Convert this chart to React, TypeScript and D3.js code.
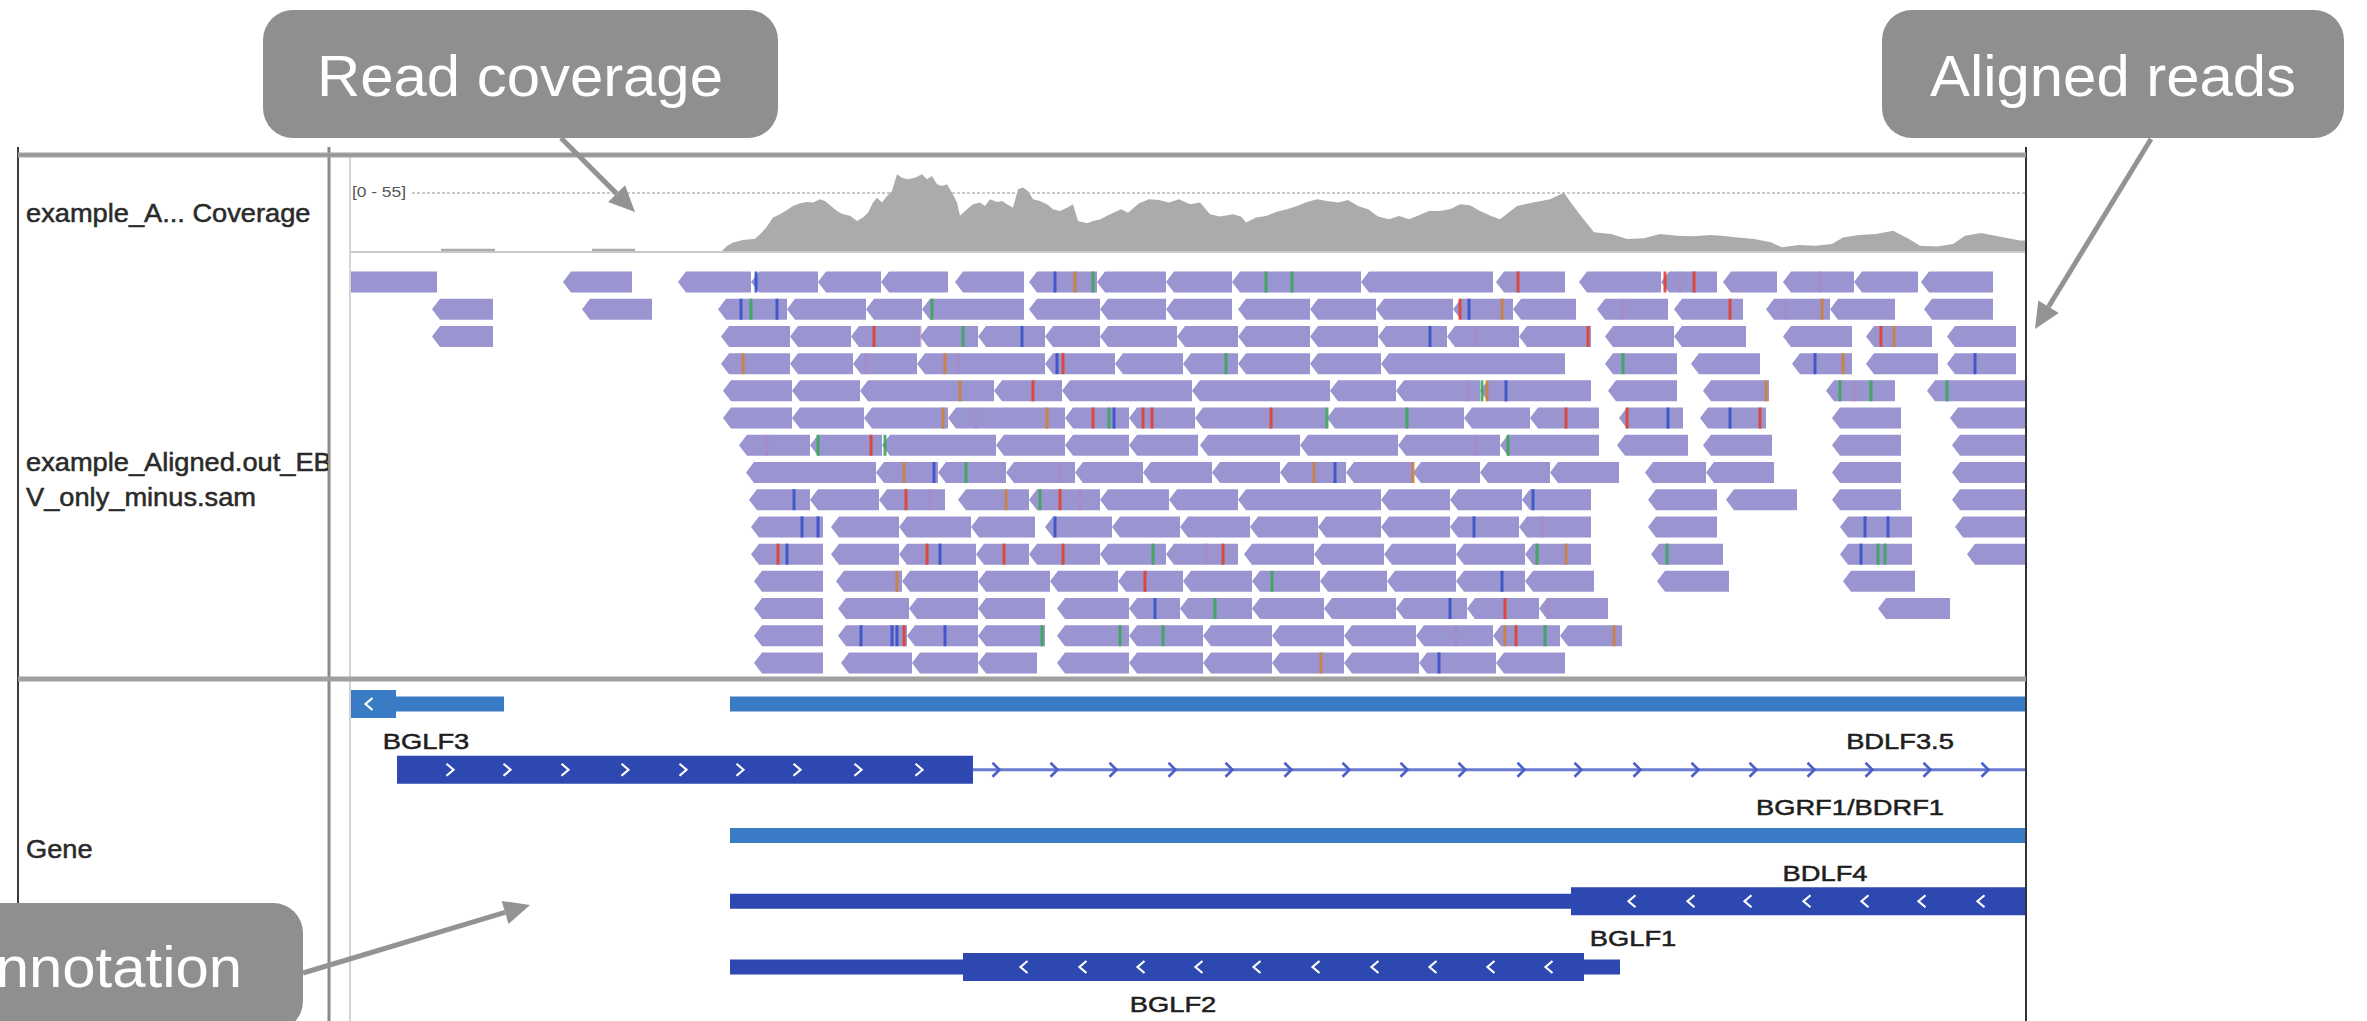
import React from "react";
import * as d3 from "d3";

const W = 2367;
const H = 1021;
const FONT = "'Liberation Sans', Arial, Helvetica, sans-serif";

// coverage track: bp position in the view window, read depth (autoscale [0 - 55])
const covPos = [0, 91, 91, 145, 145, 242, 242, 285, 285, 372, 377, 383, 393, 405, 410, 417, 423, 430, 437, 443, 450, 457, 463, 470, 475, 480, 487, 493, 500, 507, 513, 518, 523, 527, 532, 537, 542, 547, 552, 558, 565, 572, 577, 582, 587, 592, 597, 602, 607, 610, 617, 623, 630, 635, 640, 647, 652, 657, 663, 668, 673, 678, 683, 690, 697, 703, 710, 717, 723, 728, 737, 743, 750, 758, 771, 778, 789, 799, 809, 819, 829, 840, 850, 860, 870, 883, 891, 896, 906, 916, 926, 937, 947, 957, 967, 977, 988, 998, 1008, 1018, 1028, 1039, 1049, 1059, 1069, 1079, 1090, 1100, 1110, 1120, 1130, 1141, 1150, 1167, 1183, 1200, 1214, 1222, 1233, 1244, 1261, 1277, 1294, 1310, 1327, 1344, 1360, 1371, 1388, 1404, 1421, 1432, 1449, 1465, 1482, 1493, 1509, 1526, 1543, 1559, 1570, 1587, 1603, 1615, 1631, 1648, 1670, 1680];
const covDepth = [0, 0, 1.5, 1.5, 0, 0, 1.5, 1.5, 0, 0, 3.3, 5.5, 7.2, 8.1, 10.9, 16, 21.9, 24, 26.9, 29.5, 31.2, 32.1, 31.7, 33.9, 32.8, 29.9, 26.2, 24, 23, 19.6, 21.9, 25.1, 31.7, 34.9, 31.7, 36, 39.3, 50.2, 48, 47, 48, 50.2, 47, 49.1, 43.7, 42.6, 43.7, 38.2, 31.7, 23, 27.3, 30.6, 31.7, 29.5, 33.9, 32.1, 32.8, 30.6, 28.4, 40.4, 41.5, 39.3, 33.9, 32.8, 30.6, 27.3, 26.2, 28.4, 30.6, 19.6, 18.1, 19.6, 20.7, 23.4, 27.3, 25.1, 31.2, 33.9, 33.4, 31.7, 33.9, 30.6, 31.7, 24, 22.6, 24, 22.6, 18.6, 21.9, 22.9, 25.5, 27.3, 29.5, 32.1, 33.9, 32.8, 31.7, 33.4, 29.5, 27.3, 22.6, 20.8, 22.9, 20.8, 23.4, 26.2, 26.2, 27.3, 30.6, 30, 26.2, 22.9, 20.8, 29.5, 31.7, 33.9, 38.2, 30.6, 21.3, 12.2, 11.1, 7.9, 8.3, 11.1, 10, 9.6, 10.5, 10, 8.9, 7.9, 5.7, 2.4, 3.9, 3.5, 4.6, 8.9, 10.5, 11.1, 13.3, 7.9, 3.5, 3, 4.6, 10, 11.8, 9.6, 6.8, 6.8];

// aligned reads (all minus strand), one list per packed row: [start, end] in bp
const readRows: [number, number][][] = [
  [[-15, 87], [213, 282], [328, 401], [401, 468], [468, 531], [531, 598], [605, 674], [679, 747], [747, 816], [816, 882], [882, 1011], [1011, 1143], [1146, 1215], [1229, 1311], [1311, 1367], [1373, 1427], [1433, 1504], [1504, 1568], [1571, 1643]],
  [[82, 143], [232, 302], [368, 437], [437, 516], [516, 572], [572, 674], [679, 750], [750, 816], [816, 882], [888, 960], [960, 1026], [1026, 1103], [1103, 1163], [1163, 1226], [1247, 1318], [1324, 1393], [1416, 1480], [1480, 1545], [1574, 1643]],
  [[82, 143], [371, 440], [440, 501], [501, 570], [570, 628], [628, 695], [695, 750], [750, 827], [827, 888], [888, 960], [960, 1028], [1028, 1097], [1097, 1169], [1169, 1241], [1255, 1324], [1324, 1396], [1433, 1502], [1516, 1582], [1597, 1666]],
  [[371, 440], [440, 503], [503, 567], [567, 695], [695, 765], [765, 833], [833, 888], [888, 960], [960, 1031], [1031, 1215], [1255, 1327], [1341, 1410], [1442, 1502], [1516, 1588], [1597, 1666]],
  [[373, 442], [442, 510], [510, 644], [644, 712], [712, 842], [842, 980], [980, 1046], [1046, 1130], [1130, 1241], [1258, 1327], [1353, 1419], [1476, 1545], [1577, 1680]],
  [[373, 442], [442, 514], [514, 598], [598, 715], [715, 779], [779, 845], [845, 977], [977, 1114], [1114, 1180], [1180, 1249], [1269, 1333], [1350, 1416], [1482, 1551], [1600, 1680]],
  [[389, 460], [460, 532], [532, 646], [646, 715], [715, 779], [779, 848], [850, 950], [950, 1048], [1048, 1150], [1150, 1249], [1267, 1338], [1353, 1422], [1482, 1551], [1602, 1680]],
  [[396, 526], [526, 588], [588, 656], [656, 725], [725, 793], [793, 862], [862, 930], [930, 996], [996, 1063], [1063, 1130], [1130, 1200], [1200, 1269], [1295, 1356], [1356, 1424], [1482, 1551], [1602, 1680]],
  [[399, 460], [460, 529], [529, 595], [608, 679], [679, 750], [750, 819], [819, 888], [888, 1031], [1031, 1100], [1100, 1172], [1172, 1241], [1298, 1367], [1376, 1447], [1482, 1551], [1602, 1680]],
  [[401, 473], [481, 549], [549, 621], [621, 685], [695, 762], [762, 830], [830, 900], [900, 968], [968, 1031], [1031, 1100], [1100, 1169], [1169, 1241], [1298, 1367], [1490, 1562], [1605, 1680]],
  [[401, 473], [481, 549], [549, 626], [626, 679], [679, 750], [750, 816], [816, 888], [894, 964], [964, 1034], [1034, 1106], [1106, 1175], [1175, 1241], [1301, 1373], [1490, 1562], [1617, 1680]],
  [[404, 473], [486, 552], [552, 628], [628, 700], [700, 768], [768, 833], [833, 902], [902, 970], [970, 1037], [1037, 1106], [1106, 1175], [1175, 1244], [1307, 1379], [1493, 1565]],
  [[404, 473], [488, 559], [559, 628], [628, 695], [707, 779], [779, 830], [830, 902], [902, 974], [974, 1046], [1046, 1117], [1117, 1189], [1189, 1258], [1528, 1600]],
  [[404, 473], [488, 557], [557, 628], [628, 695], [707, 779], [779, 853], [853, 922], [922, 994], [994, 1066], [1066, 1143], [1143, 1210], [1210, 1272]],
  [[404, 473], [491, 562], [562, 628], [628, 687], [707, 779], [779, 853], [853, 922], [922, 994], [994, 1069], [1069, 1146], [1146, 1215]],
];

// mismatched bases: [row, bp, base]
const mismatches: [number, number, string][] = [
  [0, 406, "B"], [0, 705, "B"], [0, 725, "O"], [0, 743, "G"], [0, 916, "G"], [0, 942, "G"], [0, 1168, "R"], [0, 1315, "R"], [0, 1330, "P"], [0, 1344, "R"], [0, 1470, "P"],
  [1, 391, "B"], [1, 401, "G"], [1, 427, "B"], [1, 582, "G"], [1, 1110, "R"], [1, 1119, "B"], [1, 1152, "O"], [1, 1273, "P"], [1, 1380, "R"], [1, 1436, "P"], [1, 1472, "O"],
  [2, 524, "R"], [2, 570, "P"], [2, 613, "G"], [2, 672, "B"], [2, 1080, "B"], [2, 1126, "P"], [2, 1238, "R"], [2, 1531, "R"], [2, 1544, "O"],
  [3, 393, "O"], [3, 516, "P"], [3, 595, "O"], [3, 608, "P"], [3, 707, "B"], [3, 713, "R"], [3, 876, "G"], [3, 1273, "G"], [3, 1465, "B"], [3, 1493, "O"], [3, 1625, "B"],
  [4, 610, "O"], [4, 683, "R"], [4, 1117, "P"], [4, 1132, "G"], [4, 1137, "O"], [4, 1156, "B"], [4, 1416, "O"], [4, 1490, "G"], [4, 1505, "P"], [4, 1521, "G"], [4, 1597, "G"],
  [5, 593, "O"], [5, 626, "P"], [5, 697, "O"], [5, 743, "R"], [5, 759, "G"], [5, 764, "B"], [5, 793, "R"], [5, 802, "R"], [5, 921, "R"], [5, 977, "G"], [5, 1057, "G"], [5, 1216, "R"], [5, 1277, "R"], [5, 1318, "B"], [5, 1380, "B"], [5, 1410, "R"],
  [6, 417, "P"], [6, 468, "G"], [6, 521, "R"], [6, 535, "G"], [6, 1126, "P"], [6, 1158, "G"],
  [7, 554, "O"], [7, 584, "B"], [7, 616, "G"], [7, 710, "P"], [7, 964, "O"], [7, 985, "B"], [7, 1063, "O"],
  [8, 444, "B"], [8, 556, "R"], [8, 580, "P"], [8, 656, "O"], [8, 690, "G"], [8, 710, "R"], [8, 730, "P"], [8, 1183, "B"],
  [9, 452, "B"], [9, 468, "B"], [9, 705, "B"], [9, 1124, "B"], [9, 1192, "P"], [9, 1515, "B"], [9, 1538, "B"],
  [10, 428, "R"], [10, 437, "B"], [10, 577, "R"], [10, 590, "B"], [10, 654, "R"], [10, 713, "R"], [10, 803, "G"], [10, 856, "P"], [10, 873, "R"], [10, 1187, "G"], [10, 1216, "O"], [10, 1317, "G"], [10, 1511, "B"], [10, 1528, "G"], [10, 1535, "G"],
  [11, 547, "O"], [11, 795, "R"], [11, 922, "G"], [11, 1152, "B"],
  [12, 805, "B"], [12, 865, "G"], [12, 1100, "B"], [12, 1155, "R"], [12, 1198, "P"],
  [13, 511, "B"], [13, 542, "B"], [13, 547, "B"], [13, 554, "R"], [13, 595, "B"], [13, 692, "G"], [13, 770, "G"], [13, 813, "G"], [13, 1106, "P"], [13, 1155, "O"], [13, 1166, "R"], [13, 1195, "G"], [13, 1264, "O"],
  [14, 971, "O"], [14, 1089, "B"],
];
const baseColors: Record<string, string> = { R: "#e0402e", B: "#3550c6", G: "#3aa65a", O: "#cf7f3c", P: "#a98bc4" };

// gene features: row, colour, segments [start, end, kind]
const genes = [
  { name: "BGLF3", row: 0, tone: "light", label: 76, segs: [[-10, 46, "cds"], [46, 154, "utr"]] },
  { name: "BDLF3.5", row: 0, tone: "light", label: 1550, segs: [[380, 1690, "utr"]] },
  { name: "BGRF1/BDRF1", row: 1, tone: "dark", label: 1500, segs: [[47, 623, "cds"], [623, 1690, "intron"]] },
  { name: "BDLF4", row: 2, tone: "light", label: 1475, segs: [[380, 1690, "utr"]] },
  { name: "BGLF1", row: 3, tone: "dark", label: 1283, segs: [[380, 1221, "utr"], [1221, 1690, "cds"]] },
  { name: "BGLF2", row: 4, tone: "dark", label: 823, segs: [[380, 613, "utr"], [613, 1234, "cds"], [1234, 1270, "utr"]] },
];
// strand chevrons: [row, bp, dir, onLine]
const chevrons: [number, number, string, boolean][] = [
  [0, 19, "<", false],
  ...[100, 157, 215, 275, 333, 390, 447, 508, 569].map((p) => [1, p, ">", false] as [number, number, string, boolean]),
  ...[646, 704, 763, 822, 879, 938, 996, 1054, 1112, 1171, 1228, 1287, 1345, 1403, 1461, 1519, 1577, 1635].map((p) => [1, p, ">", true] as [number, number, string, boolean]),
  ...[1282, 1341, 1398, 1457, 1515, 1572, 1631].map((p) => [3, p, "<", false] as [number, number, string, boolean]),
  ...[674, 733, 791, 849, 907, 966, 1025, 1083, 1141, 1199].map((p) => [4, p, "<", false] as [number, number, string, boolean]),
];

const trackLabels = [
  { text: "example_A... Coverage", y: 222 },
  { text: "example_Aligned.out_EB", y: 471 },
  { text: "V_only_minus.sam", y: 506 },
  { text: "Gene", y: 858 },
];

const callouts = [
  { text: "Read coverage", box: [263, 10, 515, 128], anchor: "middle", tx: 520, ty: 96, arrow: [561, 138, 635, 212] },
  { text: "Aligned reads", box: [1882, 10, 462, 128], anchor: "middle", tx: 2113, ty: 96, arrow: [2151, 139, 2035, 329] },
  { text: "Annotation", box: [-250, 903, 553, 128], anchor: "end", tx: 242, ty: 987, arrow: [303, 973, 530, 905] },
];

const x = d3.scaleLinear().domain([0, 1676]).range([350, 2026]);
const rowY = d3.scaleLinear().domain([0, 14]).range([282, 663]);
const covY = d3.scaleLinear().domain([0, 55]).range([251, 167]);
const geneY = d3.scaleLinear().domain([0, 4]).range([704, 967]);

const READ_H = 21;
const TIP = 8;

function SText({ x, y, size, sx, anchor = "start", fill = "#222", heavy = 0, children }: any) {
  return (
    <text transform={`translate(${x},${y}) scale(${sx},1)`} fontSize={size} textAnchor={anchor} fill={fill}
      stroke={heavy ? fill : "none"} strokeWidth={heavy} fontFamily={FONT}>
      {children}
    </text>
  );
}

function Arrow({ a }: { a: number[] }) {
  const [x1, y1, x2, y2] = a;
  const ang = Math.atan2(y2 - y1, x2 - x1);
  const len = 26, half = 12;
  const bx = x2 - len * Math.cos(ang), by = y2 - len * Math.sin(ang);
  const px = -Math.sin(ang) * half, py = Math.cos(ang) * half;
  return (
    <g>
      <line x1={x1} y1={y1} x2={bx} y2={by} stroke="#939393" strokeWidth={5} />
      <polygon points={`${x2},${y2} ${bx + px},${by + py} ${bx - px},${by - py}`} fill="#939393" />
    </g>
  );
}

export default function App() {
  const covArea = d3.area<number>()
    .x((_, i) => x(covPos[i]))
    .y0(covY(0))
    .y1((d) => covY(d));

  const line = d3.line();

  const readPath = (s: number, e: number, row: number) => {
    const x0 = x(s), x1 = x(e), yc = rowY(row);
    const t = yc - READ_H / 2, b = yc + READ_H / 2;
    return line([[x0, yc], [x0 + TIP, t], [x1, t], [x1, b], [x0 + TIP, b]]) + "Z";
  };

  const chevPath = (cx: number, cy: number, dir: string, h: number) => {
    const w = dir === "<" ? 3.5 : -3.5;
    return line([[cx + w, cy - h / 2], [cx - w, cy], [cx + w, cy + h / 2]]);
  };

  return (
    <div style={{ position: "absolute", left: 0, top: 0 }}>
      <svg width={W} height={H} style={{ display: "block", background: "#fff" }}>
        <defs>
          <clipPath id="dataClip"><rect x={351} y={155} width={1674} height={H} /></clipPath>
          <clipPath id="nameClip"><rect x={19} y={155} width={309} height={H} /></clipPath>
        </defs>

        {/* panel frame */}
        <line x1={18} y1={147} x2={18} y2={H} stroke="#3a3a3a" strokeWidth={2} />
        <line x1={329} y1={147} x2={329} y2={H} stroke="#8a8a8a" strokeWidth={3} />
        <line x1={350} y1={157} x2={350} y2={H} stroke="#d4d4d4" strokeWidth={2} />
        <line x1={2026} y1={147} x2={2026} y2={H} stroke="#333" strokeWidth={2} />
        <line x1={18} y1={155} x2={2026} y2={155} stroke="#a2a2a2" strokeWidth={5} />
        <line x1={18} y1={155} x2={2026} y2={155} stroke="#8a8a8a" strokeWidth={1} />

        {/* track names */}
        <g clipPath="url(#nameClip)">
          {trackLabels.map((t) => (
            <SText key={t.text} x={26} y={t.y} size={25} sx={1.09} fill="#2a2a2a" heavy={0.5}>{t.text}</SText>
          ))}
        </g>

        <g clipPath="url(#dataClip)">
          {/* coverage */}
          <line x1={412} y1={193} x2={2026} y2={193} stroke="#c9c9c9" strokeWidth={2} strokeDasharray="3,2" />
          <SText x={352} y={197} size={14} sx={1.24} fill="#555">[0 - 55]</SText>
          <path d={covArea(covDepth) || ""} fill="#ababab" />
          <line x1={350} y1={252} x2={2026} y2={252} stroke="#c8c8c8" strokeWidth={2} />

          {/* reads */}
          {readRows.map((row, r) =>
            row.map(([s, e], k) => <path key={`${r}-${k}`} d={readPath(s, e, r)} fill="#9a95d0" />)
          )}
          {mismatches.map(([r, p, b], k) => (
            <rect key={k} x={x(p) - 1.5} y={rowY(r) - READ_H / 2} width={3} height={READ_H}
              fill={baseColors[b]} opacity={b === "P" ? 0.7 : 0.9} />
          ))}

          {/* genes */}
          {genes.map((g) =>
            g.segs.map(([s, e, kind]: any, k: number) => {
              const fill = g.tone === "light" ? "#3a7bc6" : "#2d48b0";
              const cy = geneY(g.row);
              if (kind === "intron") {
                return <rect key={g.name + k} x={x(s)} y={cy - 1.5} width={x(e) - x(s)} height={3} fill="#6b7bd2" />;
              }
              const h = kind === "cds" ? 28 : 15;
              return <rect key={g.name + k} x={x(s)} y={cy - h / 2} width={x(e) - x(s)} height={h} fill={fill} />;
            })
          )}
          {chevrons.map(([r, p, dir, onLine], k) => (
            <path key={k} d={chevPath(x(p), geneY(r), dir, onLine ? 14 : 12) || ""} fill="none"
              stroke={onLine ? "#4a5fc8" : "#ffffff"} strokeWidth={onLine ? 2.6 : 2.2} />
          ))}
          {genes.map((g) => (
            <SText key={g.name} x={x(g.label)} y={geneY(g.row) + 45} size={21.5} sx={1.27} anchor="middle" fill="#1e1e1e" heavy={0.5}>{g.name}</SText>
          ))}
        </g>

        {/* reads / gene separator */}
        <line x1={18} y1={679} x2={2026} y2={679} stroke="#a0a0a0" strokeWidth={5} />

        {/* callouts */}
        {callouts.map((c) => (
          <g key={c.text}>
            <rect x={c.box[0]} y={c.box[1]} width={c.box[2]} height={c.box[3]} rx={30} fill="#8f8f8f" />
            <Arrow a={c.arrow} />
            <SText x={c.tx} y={c.ty} size={57} sx={1.05} anchor={c.anchor} fill="#ffffff">{c.text}</SText>
          </g>
        ))}
      </svg>
    </div>
  );
}
